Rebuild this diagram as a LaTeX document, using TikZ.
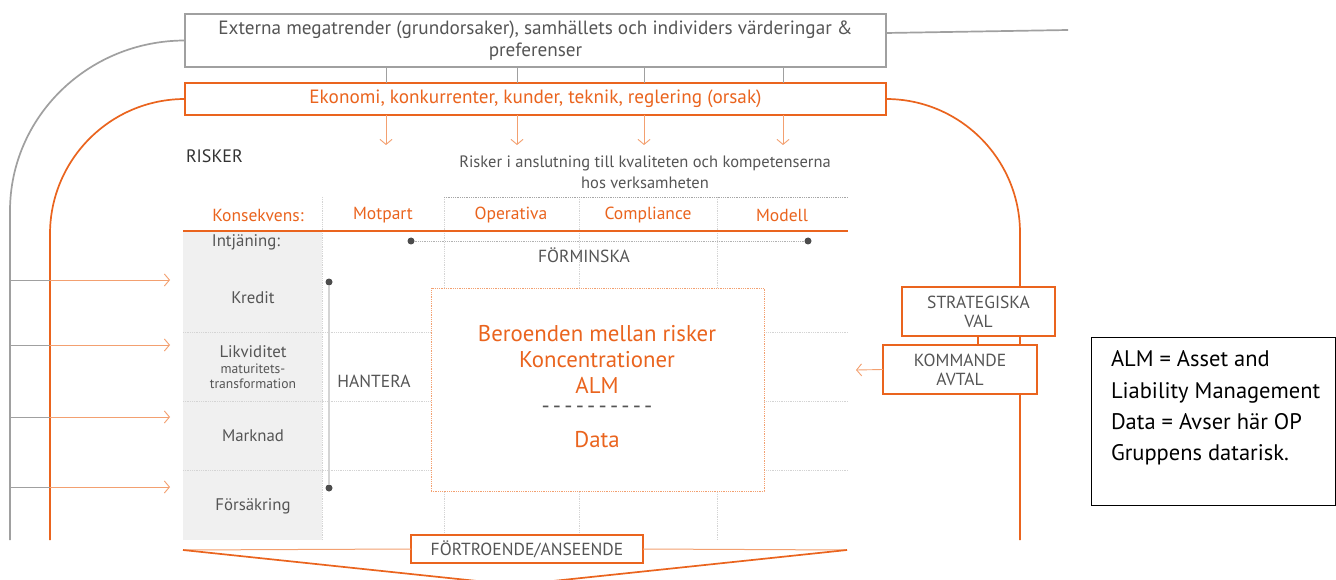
\documentclass[tikz,border=0pt]{standalone}
\usepackage{fontspec}
\setmainfont{PT Sans}
\newfontfamily\notefont{PT Sans}
\usetikzlibrary{arrows.meta}
\definecolor{opor}{RGB}{234,100,30}
\definecolor{opltor}{RGB}{243,160,112}
\definecolor{txgray}{RGB}{85,85,85}
\definecolor{lngray}{RGB}{160,160,160}
\definecolor{gridc}{RGB}{212,212,212}
\definecolor{colfill}{RGB}{240,240,240}
\newcommand\hy{-\kern3.2pt}
\begin{document}
\begin{tikzpicture}[x=1pt,y=-1pt,
  every node/.style={inner sep=0pt, outer sep=0pt},
  gtxt/.style={text=txgray, font=\fontsize{17.5}{19}\selectfont},
  hdr/.style={text=opor, font=\fontsize{17.5}{20}\selectfont},
  rowlbl/.style={text=txgray, font=\fontsize{16.8}{19}\selectfont},
  smlbl/.style={text=txgray, font=\fontsize{13.6}{15}\selectfont},
  gline/.style={draw=lngray, line width=1.7pt},
  oline/.style={draw=opor, line width=1.7pt},
  thinor/.style={draw=opltor, line width=0.9pt},
  thingr/.style={draw=lngray, line width=0.9pt},
  barb/.style={-{Straight Barb[length=5pt,width=12pt,line width=0.9pt]}},
  gridln/.style={draw=gridc, line width=0.8pt, densely dotted},
  obox/.style={draw=opor, line width=1.4pt, fill=white, align=center, text=txgray, font=\fontsize{17.5}{19}\selectfont},
  dotn/.style={circle, fill=black!70, minimum size=7pt},
  ctxt/.style={text=opor, font=\fontsize{22.8}{26}\selectfont, align=center},
]
\fill[white] (0,0) rectangle (1336,580);
\useasboundingbox (0,0) rectangle (1336,580);

% grey column and grid
\fill[colfill] (183,231) rectangle (322,540);
\foreach \y in {332,401,470} \draw[gridln] (183,\y) -- (848,\y);
\foreach \x in {444,579,717} \draw[gridln] (\x,197) -- (\x,540);
\draw[gridln] (322,197) -- (322,540);
\draw[gridln, draw=black!35] (444,197) -- (848,197);

% central box
\node[draw=opltor, densely dotted, line width=0.8pt, fill=white, minimum width=333pt, minimum height=203pt, anchor=north west] (cb) at (431,288) {};
\node[ctxt] (c1) at (597,359) {Beroenden mellan risker\\Koncentrationer\\ALM};
\node[text=txgray, font=\fontsize{22.8}{26}\selectfont] (c2) at (597,410) {\hy\hy\hy\hy\hy\hy\hy\hy\hy-};
\node[ctxt] (c3) at (597,440) {Data};

% top boxes
\node[draw=lngray, line width=1.4pt, minimum width=701pt, minimum height=53pt, anchor=north west, align=center, text=txgray, font=\fontsize{19.2}{22}\selectfont] (gb) at (185,14) {Externa megatrender (grundorsaker), samhällets och individers värderingar \&\\preferenser};
\node[draw=opor, line width=1.4pt, minimum width=701pt, minimum height=32pt, anchor=north west, text=opor, font=\fontsize{19.2}{22}\selectfont] (ob) at (185,83) {Ekonomi, konkurrenter, kunder, teknik, reglering (orsak)};

% outer curves
\coordinate (gr) at (1068,30);
\coordinate (gl) at (10,540);
\coordinate (ol) at (50,540);
\coordinate (orr) at (1020,540);
\draw[gline] ([yshift=7.5pt]gb.east) -- (gr);
\draw[gline] (gb.west) .. controls (88,40.5) and (10,117) .. (10,211) -- (gl);
\draw[oline] (ob.west) .. controls (110,99) and (50,160) .. (50,234) -- (ol);
\draw[oline] (ob.east) .. controls (960,99) and (1020,159) .. (1020,233) -- (orr);

% ticks and arrows under top boxes
\foreach \x [count=\i] in {386,517,644,783} {
  \coordinate (t\i) at (\x,145);
  \draw[thingr] (gb.south -| t\i) -- (ob.north -| t\i);
  \draw[thinor, barb] (ob.south -| t\i) -- (t\i);
}

% texts
\node[text=black!80, font=\fontsize{18}{20}\selectfont, anchor=west] (risker) at (186,156) {RISKER};
\node[text=txgray, align=center, font=\fontsize{16.5}{21}\selectfont] (rk) at (645,172) {Risker i anslutning till kvaliteten och kompetenserna\\hos verksamheten};

\node[hdr] (h0) at (258,215) {Konsekvens:};
\node[hdr] (h1) at (383,215) {Motpart};
\node[hdr] (h2) at (511,215) {Operativa};
\node[hdr] (h3) at (648,215) {Compliance};
\node[hdr] (h4) at (782,215) {Modell};
\draw[draw=opor, line width=1.4pt] (183,231) -- (848,231);

\node[rowlbl] (r0) at (246,242) {Intjäning:};
\node[rowlbl] (r1) at (253,298) {Kredit};
\node[rowlbl] (r2) at (253,352) {Likviditet};
\node[smlbl] (r2a) at (253,369) {maturitets-};
\node[smlbl] (r2b) at (253,384) {transformation};
\node[rowlbl] (r3) at (253,436) {Marknad};
\node[rowlbl] (r4) at (253,506) {Försäkring};

% FÖRMINSKA / HANTERA
\node[dotn] (fa) at (411,241) {};
\node[dotn] (fb) at (808,241) {};
\draw[draw=black!30, line width=0.8pt, densely dotted] (fa) -- (fb);
\node[gtxt] (fm) at (584,255) {FÖRMINSKA};
\node[dotn] (ha) at (329,282) {};
\node[dotn] (hb) at (329,488) {};
\draw[draw=gridc, line width=1.2pt] (ha) -- (hb);
\node[gtxt] (ht) at (374,381) {HANTERA};

% left arrows
\foreach \y [count=\i] in {280,345,417,487} {
  \coordinate (lg\i) at (10,\y);
  \coordinate (lo\i) at (50,\y);
  \coordinate (la\i) at (170,\y);
  \draw[thingr] (lg\i) -- (lo\i);
  \draw[thinor, barb] (lo\i) -- (la\i);
}

% right boxes
\node[obox, minimum width=153pt, minimum height=49pt, anchor=north west] (sv) at (902,287) {STRATEGISKA\\VAL};
\node[obox, minimum width=154pt, minimum height=49pt, anchor=north west] (ka) at (883,345) {KOMMANDE\\AVTAL};
\coordinate (kx) at (978,0);
\draw[oline, line width=1.4pt] (sv.south -| kx) -- (ka.north -| kx);
\coordinate (kl) at (856,370);
\draw[thinor, barb] (ka.west) -- (kl);

% bottom
\node[obox, minimum width=232pt, minimum height=28pt, anchor=north west] (ft) at (411,535) {FÖRTROENDE/ANSEENDE};
\coordinate (bl) at (183,550);
\coordinate (br) at (847,550);
\coordinate (bt) at (515,585);
\draw[draw=opltor, line width=1pt] (bl) -- (ft.west);
\draw[draw=opltor, line width=1pt] (ft.east) -- (br);
\draw[oline] (bl) -- (bt) -- (br);

% note
\node[draw=black, line width=1pt, minimum width=244pt, minimum height=168pt, anchor=north west] (note) at (1091,337) {};
\node[anchor=north west, align=left, text=black, font=\notefont\fontsize{22.5}{31}\selectfont] (nt) at (1111,351) {ALM = Asset and\\Liability Management\\Data = Avser här OP\\Gruppens datarisk.};
\end{tikzpicture}
\end{document}
